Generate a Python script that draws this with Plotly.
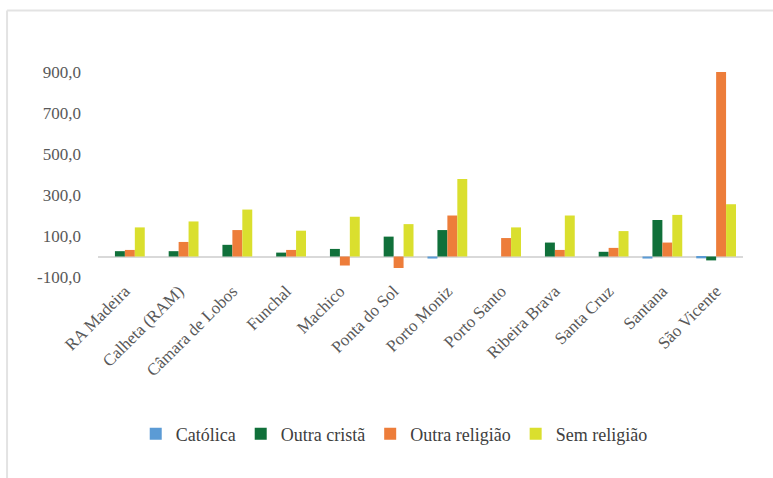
import plotly.graph_objects as go

categories = ["RA Madeira", "Calheta (RAM)", "Câmara de Lobos", "Funchal", "Machico",
              "Ponta do Sol", "Porto Moniz", "Porto Santo", "Ribeira Brava",
              "Santa Cruz", "Santana", "São Vicente"]
catolica = [0, 0, 0, 0, 0, 0, -10, 0, 0, 0, -10, -9]
outra_crista = [26, 26, 57, 19, 37, 97, 129, 0, 68, 23, 178, -19]
outra_religiao = [32, 71, 129, 32, -44, -56, 200, 90, 32, 42, 68, 900]
sem_religiao = [142, 171, 229, 126, 194, 158, 378, 142, 200, 124, 203, 255]
tick_vals = [-100, 100, 300, 500, 700, 900]
tick_text = ["-100,0", "100,0", "300,0", "500,0", "700,0", "900,0"]

series = [
    ("Católica", catolica, "#5B9BD5"),
    ("Outra cristã", outra_crista, "#10703A"),
    ("Outra religião", outra_religiao, "#ED7D3A"),
    ("Sem religião", sem_religiao, "#DADF2E"),
]

font_family = "Liberation Serif, DejaVu Serif, serif"

fig = go.Figure()
for name, vals, color in series:
    fig.add_trace(go.Bar(x=categories, y=vals, name=name, marker_color=color,
                         marker_line_width=0))

fig.update_layout(
    width=773, height=478,
    margin=dict(l=98, r=30, t=71, b=201, autoexpand=False),
    paper_bgcolor="white", plot_bgcolor="white",
    barmode="group", bargap=0.26, bargroupgap=0,
    font=dict(family=font_family, color="#595959", size=17),
    showlegend=True,
    legend=dict(orientation="h", x=0.51, xanchor="center", xref="container",
                y=0.092, yanchor="middle", yref="container",
                font=dict(size=18, color="#404040"), itemwidth=30, traceorder="normal"),
    xaxis=dict(tickangle=-45, showline=False, ticks="", tickfont=dict(size=17, color="#595959"),
               showgrid=False, automargin=False),
    yaxis=dict(range=[-100, 905], tickvals=tick_vals, ticktext=tick_text, showgrid=False,
               zeroline=True, zerolinecolor="#D9D9D9", zerolinewidth=1.5, showline=False,
               tickfont=dict(size=17, color="#595959"), ticks="",
               ticklabelstandoff=16, automargin=False),
    shapes=[
        dict(type="line", xref="paper", yref="paper", x0=-0.141, x1=-0.141, y0=-1.0, y1=1.294,
             line=dict(color="#E3E3E3", width=2)),
        dict(type="line", xref="paper", yref="paper", x0=-0.141, x1=1.06, y0=1.294, y1=1.294,
             line=dict(color="#E3E3E3", width=2)),
    ],
)

fig.write_html("out.html", config={"displayModeBar": False},
               post_script="document.body.style.margin='0';document.body.style.padding='0';")
